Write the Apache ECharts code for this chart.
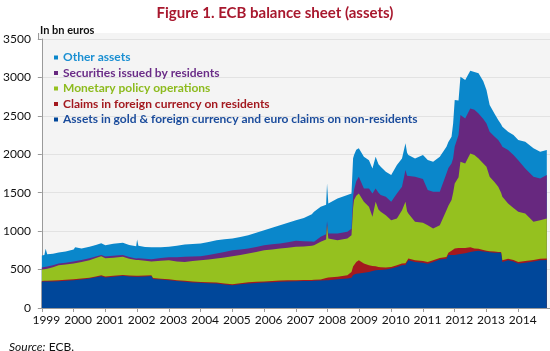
<!DOCTYPE html>
<html>
<head>
<meta charset="utf-8">
<script src="https://cdn.jsdelivr.net/npm/echarts@6/dist/echarts.min.js"></script>
<style>
  html, body { margin: 0; padding: 0; background: #fff; }
  #main { width: 550px; height: 351px; }
</style>
</head>
<body>
<div id="main"></div>
<script>
// dates as decimal years, values in bn euros
var dates = [
  1999.00, 1999.08, 1999.12, 1999.17, 1999.35, 1999.53, 1999.75,
  2000.00, 2000.05, 2000.25, 2000.50, 2000.70, 2000.87,
  2001.00, 2001.25, 2001.55, 2001.75, 2001.97,
  2002.00, 2002.04, 2002.25, 2002.45, 2002.50, 2002.75,
  2003.00, 2003.25, 2003.50, 2003.75,
  2004.00, 2004.25, 2004.50, 2004.75,
  2005.00, 2005.25, 2005.50, 2005.75,
  2006.00, 2006.25, 2006.50, 2006.75,
  2007.00, 2007.25, 2007.50, 2007.57, 2007.78, 2007.95, 2007.98,
  2008.02, 2008.31, 2008.62, 2008.75, 2008.80, 2008.83, 2008.90, 2008.98,
  2009.14, 2009.30, 2009.41, 2009.51, 2009.60, 2009.67, 2009.83,
  2010.00, 2010.18, 2010.34, 2010.45, 2010.50, 2010.54, 2010.75,
  2011.00, 2011.15, 2011.32, 2011.53, 2011.74, 2011.80, 2011.90, 2011.95,
  2012.00, 2012.12, 2012.18, 2012.33, 2012.49, 2012.62, 2012.75, 2012.90,
  2013.00, 2013.10, 2013.25, 2013.37, 2013.46, 2013.50, 2013.68, 2013.85,
  2014.00, 2014.22, 2014.48, 2014.69, 2014.90
];

var goldFx = [
  340, 345, 350, 345, 345, 349, 355,
  362, 365, 372, 384, 400, 414,
  397, 405, 418, 410, 405,
  405, 405, 410, 415, 378, 370,
  362, 350, 340, 333,
  327, 322, 319, 305,
  297, 308, 319, 325,
  332, 336, 340, 345,
  349, 350, 352, 353, 358, 362, 362,
  362, 375, 384, 395, 430, 440, 445, 449,
  458, 470, 480, 492, 495, 495, 501,
  514, 535, 557, 560, 565, 622, 600,
  590, 575, 600, 630, 640, 688, 688, 688,
  690, 700, 705, 712, 730, 740, 745, 735,
  731, 725, 720, 718, 718, 600, 622, 605,
  579, 590, 605, 622, 625
];

var claimsFx = [
  10, 10, 10, 11, 12, 11, 11,
  11, 11, 11, 11, 10, 11,
  13, 13, 12, 12, 13,
  13, 13, 12, 11, 12, 12,
  12, 12, 13, 12,
  10, 12, 12, 13,
  13, 14, 16, 15,
  13, 14, 17, 15,
  13, 14, 13, 13, 14, 28, 35,
  35, 30, 43, 75, 110, 117, 155, 173,
  121, 87, 68, 52, 40, 35, 26,
  21, 20, 22, 22, 20, 22, 22,
  22, 23, 22, 20, 25, 32, 57, 72,
  85, 80, 80, 68, 60, 35, 25, 20,
  13, 15, 15, 12, 12, 20, 18, 20,
  21, 20, 20, 18, 20
];

var monPol = [
  150, 150, 155, 154, 173, 197, 199,
  207, 214, 217, 227, 240, 249,
  238, 237, 236, 218, 207,
  212, 207, 193, 179, 210, 233,
  246, 243, 247, 267,
  285, 298, 313, 340,
  364, 368, 374, 390,
  407, 412, 418, 425,
  434, 436, 445, 452, 489, 500, 681,
  508, 478, 478, 478, 760, 847, 860, 869,
  803, 759, 638, 838, 745, 721, 681,
  608, 609, 694, 800, 675, 586, 499,
  498, 480, 413, 428, 608, 610, 659, 740,
  846, 920, 1118, 1101, 1221, 1215, 1176, 1125,
  1094, 967, 905, 847, 770, 827, 721, 675,
  651, 620, 496, 503, 519
];

var securities = [
  28, 28, 30, 30, 25, 21, 25,
  25, 24, 25, 26, 20, 17,
  22, 25, 25, 22, 20,
  25, 23, 25, 29, 31, 35,
  40, 55, 66, 58,
  52, 58, 65, 72,
  78, 72, 66, 65,
  66, 66, 65, 71,
  78, 70, 55, 43, 65, 70, 52,
  65, 87, 86, 82, 150, 130, 190, 216,
  174, 240, 305, 174, 220, 218, 239,
  239, 327, 304, 412, 460, 477, 586,
  570, 456, 477, 434, 478, 490, 477, 450,
  479, 550, 607, 586, 586, 590, 586, 580,
  564, 586, 590, 608, 630, 651, 694, 690,
  673, 586, 586, 543, 565
];

var otherAssets = [
  155, 157, 225, 160, 150, 144, 145,
  156, 176, 150, 148, 150, 152,
  148, 155, 157, 158, 160,
  237, 162, 155, 155, 152, 140,
  136, 150, 160, 163,
  166, 170, 174, 165,
  153, 163, 173, 185,
  195, 217, 238, 254,
  269, 300, 355, 390, 390, 385, 491,
  391, 456, 478, 461, 500, 456, 410, 370,
  412, 368, 325, 412, 370, 369, 326,
  347, 368, 369, 348, 300, 283, 239,
  310, 391, 391, 456, 347, 340, 347, 450,
  606, 450, 499, 499, 490, 490, 521, 490,
  434, 348, 300, 260, 260, 260, 238, 260,
  261, 347, 370, 347, 326
];

var seriesNames = [
  'Assets in gold & foreign currency and euro claims on non-residents',
  'Claims in foreign currency on residents',
  'Monetary policy operations',
  'Securities issued by residents',
  'Other assets'
];
var seriesValues = [goldFx, claimsFx, monPol, securities, otherAssets];
var areaColors = ['#00479a', '#a3191f', '#95c11f', '#67287f', '#0a87cb'];
var legendColors = ['#1b4c9c', '#a3191f', '#8dbb1e', '#6a2c87', '#1a8fd2'];
var years = [1999, 2000, 2001, 2002, 2003, 2004, 2005, 2006, 2007, 2008, 2009, 2010, 2011, 2012, 2013, 2014];

var chart = echarts.init(document.getElementById('main'));

// running totals: each area is filled down to zero and the lower ones are painted over it
var totals = [];
var running = dates.map(function () { return 0; });
for (var i = 0; i < seriesValues.length; i++) {
  running = running.map(function (s, k) { return s + seriesValues[i][k]; });
  totals.push(running);
}

var series = [];
for (var n = seriesNames.length - 1; n >= 0; n--) {
  series.push({
    name: seriesNames[n],
    type: 'line',
    symbol: 'none',
    smooth: false,
    lineStyle: { width: 0 },
    itemStyle: { color: areaColors[n] },
    areaStyle: { color: areaColors[n], opacity: 1 },
    data: dates.map(function (d, k) { return [d, totals[n][k]]; })
  });
}

// legend top-down: other assets first, gold last
var legendData = [];
for (var j = seriesNames.length - 1; j >= 0; j--) {
  legendData.push({ name: seriesNames[j], icon: 'rect', textStyle: { color: legendColors[j] } });
}

var option = {
  animation: false,
  textStyle: { fontFamily: 'Lato' },
  title: [
    {
      text: 'Figure 1. ECB balance sheet (assets)',
      left: 'center',
      top: 1,
      textStyle: { fontFamily: 'Lato', fontSize: 15, fontWeight: 'bold', color: '#a8182e' }
    },
    {
      text: 'In bn euros',
      left: 35,
      top: 20,
      textStyle: { fontFamily: 'Lato', fontSize: 11, fontWeight: 'bold', color: '#111' }
    },
    {
      text: '{i|Source:} ECB.',
      left: 4,
      top: 336,
      textStyle: {
        fontFamily: 'Lato', fontSize: 12, fontWeight: 'normal', color: '#111',
        rich: { i: { fontStyle: 'italic', fontWeight: 'normal', fontFamily: 'Lato', fontSize: 12, color: '#111' } }
      }
    }
  ],
  legend: {
    orient: 'vertical',
    left: 49,
    top: 46,
    itemWidth: 4,
    itemHeight: 4,
    itemGap: 2.5,
    selectedMode: false,
    textStyle: { fontFamily: 'Lato', fontSize: 12, fontWeight: 'bold', lineHeight: 13 },
    data: legendData
  },
  grid: {
    left: 39,
    right: -2,
    top: 39,
    bottom: 43,
    show: true,
    backgroundColor: '#f4f4f4',
    borderWidth: 0
  },
  // strip of plot background above the 3500 gridline
  graphic: [
    { type: 'rect', left: 39, top: 33, shape: { width: 512, height: 6 }, style: { fill: '#f4f4f4' }, z: -1 },
    { type: 'line', shape: { x1: 38.5, y1: 33, x2: 38.5, y2: 39 }, style: { stroke: '#9a9a9a', lineWidth: 1 } }
  ],
  xAxis: {
    type: 'value',
    min: 1999,
    max: 2015,
    interval: 1,
    axisLine: { lineStyle: { color: '#9a9a9a', width: 1 } },
    axisTick: { show: true, length: 4, lineStyle: { color: '#9a9a9a' } },
    splitLine: { show: false },
    axisLabel: {
      color: '#111',
      fontSize: 12,
      margin: 6,
      padding: [0, 0, 0, 9],
      showMaxLabel: false,
      formatter: function (v) { return years.indexOf(v) >= 0 ? String(v) : ''; }
    }
  },
  yAxis: {
    type: 'value',
    min: 0,
    max: 3500,
    interval: 500,
    axisLine: { show: true, lineStyle: { color: '#9a9a9a', width: 1 } },
    axisTick: { show: true, length: 4, lineStyle: { color: '#9a9a9a' } },
    splitLine: { show: true, lineStyle: { color: '#e2e2e2', width: 1 } },
    axisLabel: { color: '#111', fontSize: 12, margin: 11, formatter: function (v) { return String(v); } }
  },
  series: series
};

chart.setOption(option);
</script>
</body>
</html>
